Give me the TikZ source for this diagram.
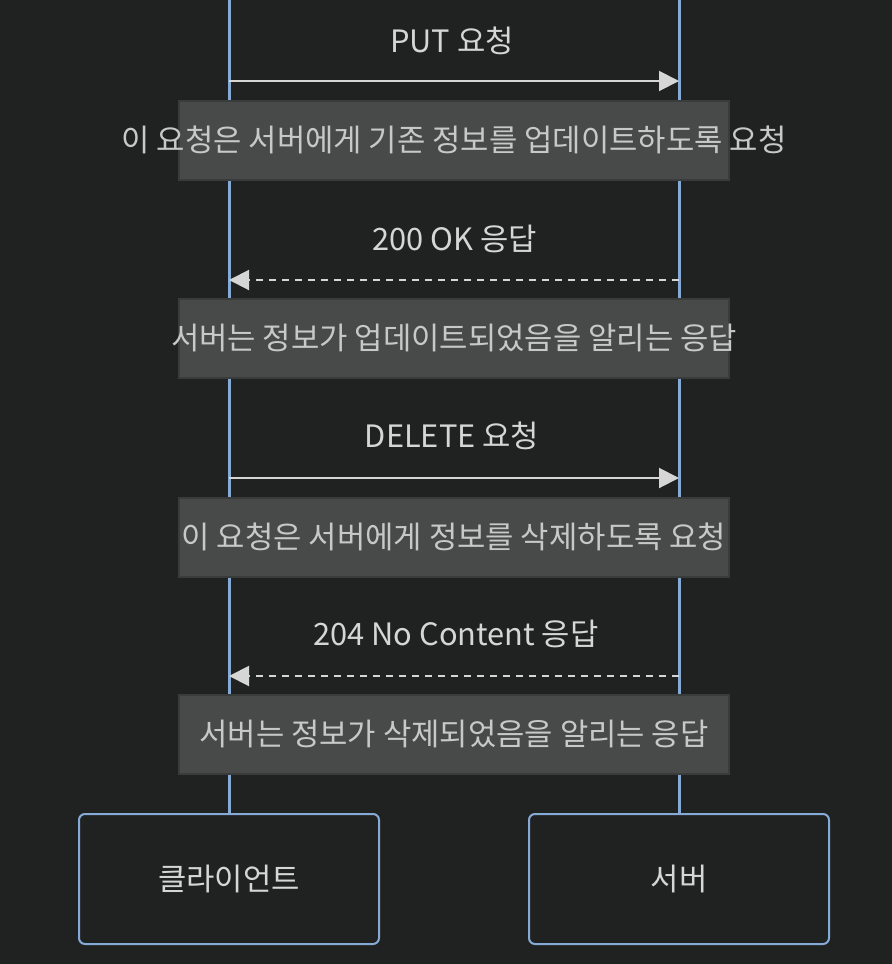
\documentclass[tikz,border=0pt]{standalone}
\usepackage{fontspec}
\setmainfont{Noto Sans CJK KR}
\usetikzlibrary{arrows.meta}
\definecolor{bgcol}{RGB}{32,33,33}
\definecolor{lifecol}{RGB}{134,170,214}
\definecolor{msgcol}{RGB}{214,214,214}
\definecolor{notefill}{RGB}{72,73,73}
\definecolor{noteline}{RGB}{58,59,59}
\definecolor{notetext}{RGB}{200,200,200}
\begin{document}
\begin{tikzpicture}[x=0.5pt, y=-0.5pt,
    actor/.style={draw=lifecol, line width=1pt, fill=bgcol, rounded corners=3pt,
        minimum width=150pt, minimum height=65pt, text=msgcol, font=\fontsize{15.4}{17}\selectfont},
    life/.style={draw=lifecol, line width=1.5pt},
    msg/.style={draw=msgcol, line width=1pt, -{Triangle[length=10pt, width=10pt]}},
    reply/.style={msg, dashed, dash pattern=on 3.5pt off 3pt},
    msglabel/.style={text=msgcol, font=\fontsize{15.4}{17}\selectfont},
    note/.style={draw=noteline, line width=1pt, fill=notefill, text=notetext,
        minimum width=275pt, minimum height=39.5pt, inner sep=0pt, font=\fontsize{15.4}{17}\selectfont}]
    \fill[bgcol] (0,0) rectangle (892,964);
    \useasboundingbox (0,0) rectangle (892,964);
    % actors at the bottom
    \node[actor] (client) at (229,879) {클라이언트};
    \node[actor] (server) at (679,879) {서버};
    % lifelines
    \coordinate (ctop) at (229,0);
    \coordinate (stop) at (679,0);
    \draw[life] (ctop) -- (client.north);
    \draw[life] (stop) -- (server.north);
    % points on the lifelines
    \coordinate (c1) at (229,81);  \coordinate (s1) at (679,81);
    \coordinate (c2) at (229,280); \coordinate (s2) at (679,280);
    \coordinate (c3) at (229,478); \coordinate (s3) at (679,478);
    \coordinate (c4) at (229,676); \coordinate (s4) at (679,676);
    % PUT
    \node[msglabel] (m1) at (452,41) {PUT 요청};
    \draw[msg] (c1) -- (s1);
    \node[note] (n1) at (454,140) {\makebox[0pt]{이 요청은 서버에게 기존 정보를 업데이트하도록 요청}};
    % 200 OK
    \node[msglabel] (m2) at (455,239) {200 OK 응답};
    \draw[reply] (s2) -- (c2);
    \node[note] (n2) at (454,338) {\makebox[0pt]{서버는 정보가 업데이트되었음을 알리는 응답}};
    % DELETE
    \node[msglabel] (m3) at (452,436) {DELETE 요청};
    \draw[msg] (c3) -- (s3);
    \node[note] (n3) at (454,537) {\makebox[0pt]{이 요청은 서버에게 정보를 삭제하도록 요청}};
    % 204 No Content
    \node[msglabel] (m4) at (456,634) {204 No Content 응답};
    \draw[reply] (s4) -- (c4);
    \node[note] (n4) at (454,734) {\makebox[0pt]{서버는 정보가 삭제되었음을 알리는 응답}};
\end{tikzpicture}
\end{document}
